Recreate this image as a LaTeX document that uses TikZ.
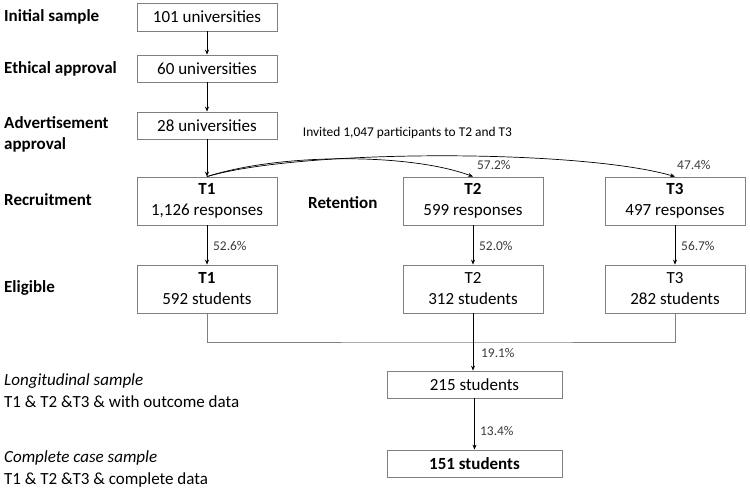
\documentclass[tikz,border=0pt]{standalone}
\usepackage{fontspec}
\setmainfont{Carlito}
\usepackage{xcolor}
\usepackage{tikz}
\usetikzlibrary{arrows.meta}

\definecolor{boxgray}{HTML}{808080}
\definecolor{pctgray}{HTML}{3A3A3A}

\begin{document}
\begin{tikzpicture}[x=1pt,y=-1pt,
  box/.style={draw=boxgray,line width=0.8pt,minimum width=140pt,minimum height=27pt,
    inner sep=0pt,align=center,font=\fontsize{17}{21}\selectfont},
  tall/.style={box,minimum height=48pt},
  wide/.style={box,minimum width=175pt},
  lab/.style={anchor=west,inner sep=0pt,align=left,font=\fontsize{17}{21}\selectfont\bfseries},
  note/.style={anchor=west,inner sep=0pt,align=left,font=\fontsize{17}{22}\selectfont},
  pct/.style={anchor=west,inner sep=0pt,text=pctgray,font=\fontsize{13.4}{16}\selectfont},
  arr/.style={-{Stealth[length=5pt,width=4pt]},line width=0.7pt}]
  \useasboundingbox (0,0) rectangle (750,489);

  \node[box,minimum height=28pt] (n101) at (207,17) {101 universities};
  \node[box] (n60) at (207,68.5) {60 universities};
  \node[box] (n28) at (207,125.5) {28 universities};

  \node[tall] (rT1) at (207,201) {\textbf{T1}\\1,126 responses};
  \node[tall] (rT2) at (473,201) {\textbf{T2}\\599 responses};
  \node[tall] (rT3) at (675,201) {\textbf{T3}\\497 responses};

  \node[tall] (eT1) at (207,289) {\textbf{T1}\\592 students};
  \node[tall] (eT2) at (473,289) {T2\\312 students};
  \node[tall] (eT3) at (675,289) {T3\\282 students};

  \node[wide] (s215) at (474.5,384.5) {215 students};
  \node[wide] (s151) at (474.5,463.5) {\textbf{151 students}};

  \node[lab] (lInit) at (4,17) {Initial sample};
  \node[lab] (lEth) at (4,69) {Ethical approval};
  \node[lab] (lAdv) at (4,134.5) {Advertisement\\approval};
  \node[lab] (lRec) at (4,200) {Recruitment};
  \node[lab] (lEli) at (4,288) {Eligible};
  \node[lab] (lRet) at (308,203) {Retention};
  \node[note] (lLong) at (4,391) {\textit{Longitudinal sample}\\T1 \& T2 \&T3 \& with outcome data};
  \node[note] (lComp) at (4,469) {\textit{Complete case sample}\\T1 \& T2 \&T3 \& complete data};

  \node[anchor=center,inner sep=0pt,font=\fontsize{13.4}{16}\selectfont] (inv) at (407.5,133) {Invited 1,047 participants to T2 and T3};

  \draw[arr] (n101) -- (n60);
  \draw[arr] (n60) -- (n28);
  \draw[arr] (n28) -- (rT1);
  \draw[arr] (rT1.north) .. controls (280,153) and (410,153) .. (rT2.north);
  \draw[arr] (rT1.north) .. controls (300,149) and (580,149) .. (rT3.north);
  \draw[arr] (rT1) -- (eT1);
  \draw[arr] (rT2) -- (eT2);
  \draw[arr] (rT3) -- (eT3);

  \coordinate (mrg) at (473,342);
  \draw[boxgray,line width=0.8pt] (eT1.south) |- (mrg) -| (eT3.south);
  \draw[arr] (eT2.south) -- (eT2.south |- s215.north);
  \draw[arr] (s215) -- (s151);

  \node[pct] (p1) at (677,165) {47.4\%};
  \node[pct] (p2) at (477,165) {57.2\%};
  \node[pct] (p3) at (213,246) {52.6\%};
  \node[pct] (p4) at (479,246) {52.0\%};
  \node[pct] (p5) at (681,246) {56.7\%};
  \node[pct] (p6) at (481,353) {19.1\%};
  \node[pct] (p7) at (480,431) {13.4\%};
\end{tikzpicture}
\end{document}
